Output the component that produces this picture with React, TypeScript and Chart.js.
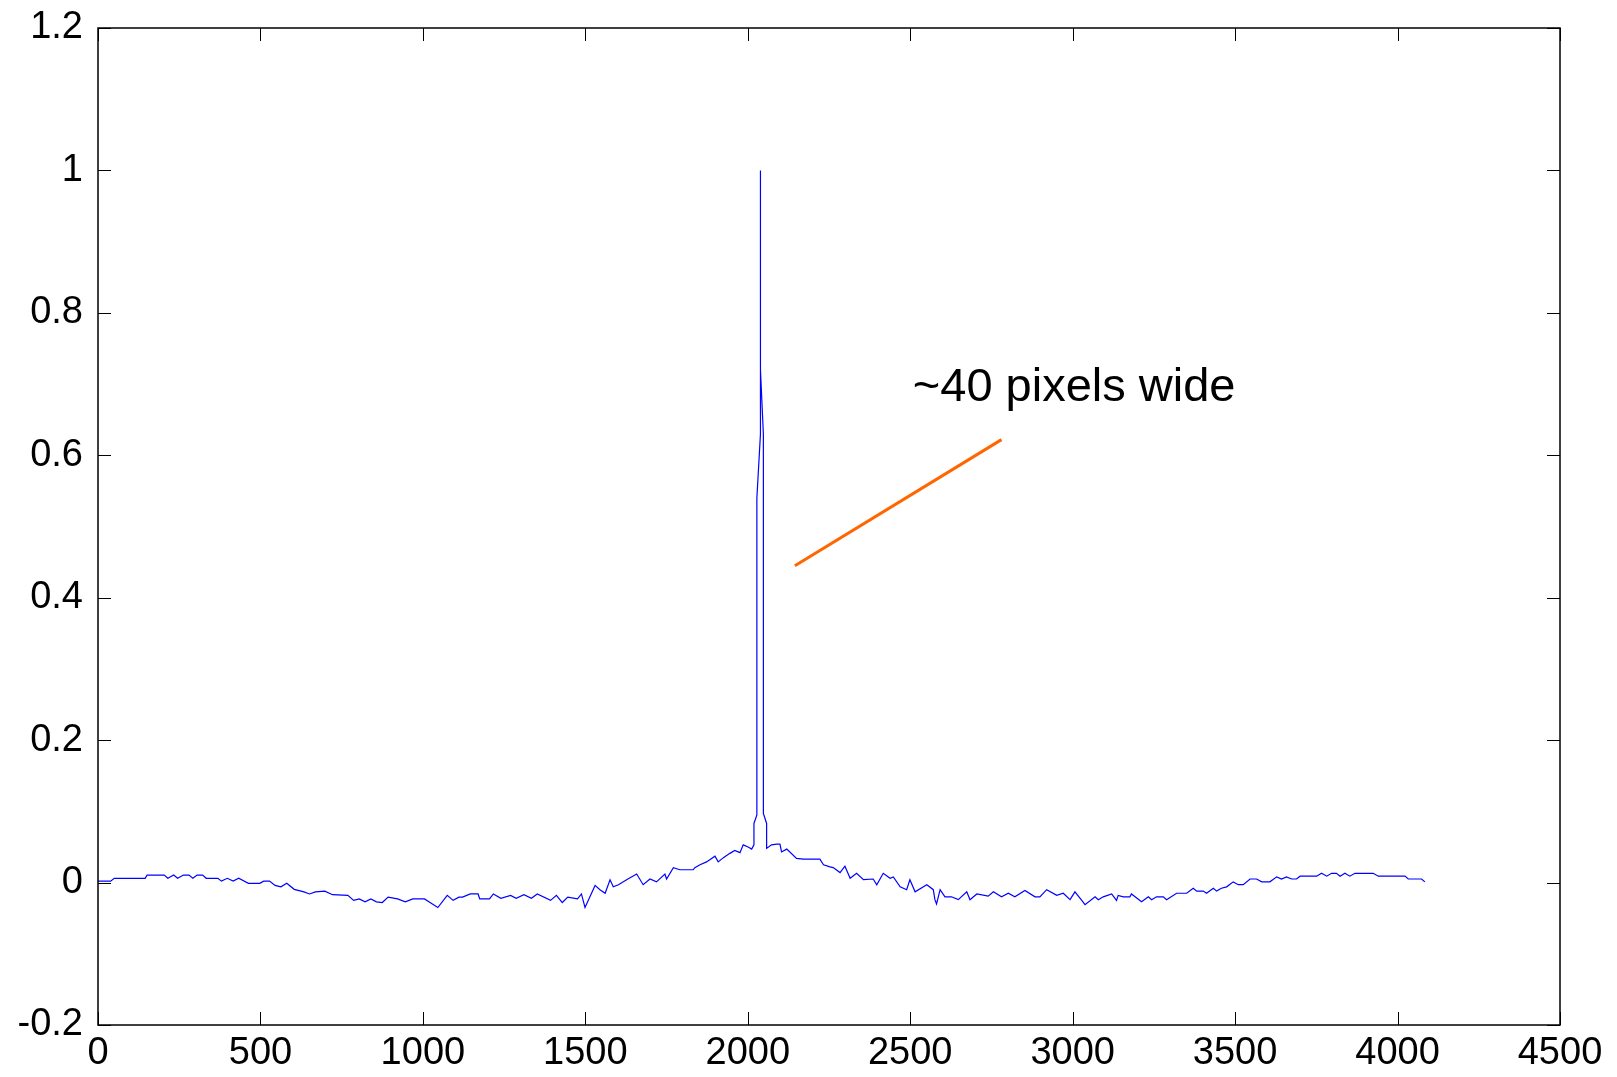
import React, { useEffect, useRef } from 'react';
import { Chart, registerables } from 'chart.js';

Chart.register(...registerables);

// Signal (x = sample index, y = normalised value)
const xs = [
  0, 39, 50, 145, 151, 204, 215, 233, 245, 263, 280, 292, 305, 322, 333, 369, 380, 398, 416, 433,
  463, 498, 510, 528, 545, 563, 581, 604, 634, 651, 669, 698, 722, 769, 787, 804, 822, 840, 857, 875,
  893, 922, 946, 969, 1005, 1022, 1046, 1075, 1093, 1111, 1122, 1146, 1170, 1175, 1205, 1217, 1240, 1270, 1287, 1311,
  1334, 1352, 1393, 1411, 1429, 1446, 1476, 1488, 1499, 1511, 1530, 1545, 1561, 1576, 1586, 1602, 1627, 1658, 1678, 1699,
  1719, 1745, 1750, 1771, 1791, 1832, 1837, 1853, 1873, 1899, 1909, 1925, 1945, 1960, 1976, 1986, 2001, 2012, 2019, 2019,
  2028, 2028, 2039, 2039, 2039, 2048, 2048, 2058, 2058, 2073, 2089, 2099, 2104, 2120, 2150, 2171, 2222, 2233, 2253, 2263,
  2284, 2299, 2315, 2335, 2356, 2386, 2397, 2417, 2438, 2448, 2469, 2489, 2499, 2515, 2551, 2571, 2576, 2581, 2592, 2607,
  2627, 2648, 2674, 2684, 2705, 2740, 2756, 2781, 2802, 2822, 2853, 2884, 2899, 2920, 2951, 2971, 2992, 3007, 3028, 3038,
  3069, 3079, 3094, 3120, 3135, 3140, 3156, 3176, 3181, 3212, 3233, 3243, 3258, 3279, 3289, 3320, 3351, 3371, 3382, 3402,
  3412, 3433, 3443, 3458, 3474, 3494, 3510, 3525, 3546, 3566, 3582, 3607, 3628, 3643, 3658, 3674, 3689, 3700, 3751, 3766,
  3782, 3797, 3812, 3823, 3838, 3853, 3869, 3925, 3941, 4023, 4033, 4074, 4084,
];
const ys = [
  0.002, 0.002, 0.006, 0.006, 0.0105, 0.0105, 0.006, 0.0105, 0.006, 0.0105, 0.0105, 0.006, 0.0105, 0.0105, 0.006, 0.006, 0.002, 0.006, 0.002, 0.006,
  -0.001, -0.001, 0.002, 0.002, -0.004, -0.006, -0.001, -0.0095, -0.013, -0.016, -0.013, -0.012, -0.017, -0.018, -0.025, -0.023, -0.027, -0.023, -0.027, -0.028,
  -0.0205, -0.023, -0.027, -0.023, -0.023, -0.028, -0.035, -0.018, -0.025, -0.0205, -0.0205, -0.016, -0.016, -0.023, -0.023, -0.016, -0.022, -0.018, -0.022, -0.017,
  -0.022, -0.016, -0.025, -0.018, -0.028, -0.0205, -0.023, -0.016, -0.035, -0.023, -0.004, -0.01, -0.015, 0.004, -0.006, -0.003, 0.004, 0.012, -0.003, 0.005,
  0.001, 0.012, 0.005, 0.021, 0.018, 0.018, 0.021, 0.025, 0.029, 0.037, 0.029, 0.035, 0.041, 0.045, 0.042, 0.053, 0.05, 0.047, 0.053, 0.083,
  0.095, 0.54, 0.63, 1.0, 0.72, 0.63, 0.097, 0.083, 0.048, 0.053, 0.054, 0.054, 0.043, 0.047, 0.034, 0.033, 0.033, 0.025, 0.022, 0.021,
  0.014, 0.023, 0.006, 0.013, 0.004, 0.005, -0.003, 0.013, 0.006, 0.008, -0.006, -0.01, 0.004, -0.013, -0.003, -0.01, -0.024, -0.03, -0.01, -0.02,
  -0.02, -0.024, -0.013, -0.024, -0.016, -0.019, -0.013, -0.02, -0.015, -0.02, -0.011, -0.02, -0.02, -0.01, -0.018, -0.015, -0.024, -0.013, -0.025, -0.031,
  -0.02, -0.024, -0.02, -0.016, -0.025, -0.018, -0.02, -0.02, -0.016, -0.027, -0.02, -0.024, -0.02, -0.02, -0.024, -0.015, -0.015, -0.008, -0.012, -0.012,
  -0.015, -0.008, -0.012, -0.008, -0.006, 0.001, -0.003, -0.003, 0.005, 0.005, 0.001, 0.001, 0.008, 0.005, 0.008, 0.005, 0.005, 0.009, 0.009, 0.013,
  0.009, 0.013, 0.013, 0.009, 0.013, 0.009, 0.013, 0.013, 0.009, 0.009, 0.005, 0.005, 0.001,
];

// Annotation pointer line and label
const pointerX = [2145, 2781];
const pointerY = [0.445, 0.622];
const annotationText = '~40 pixels wide';
const annotationX = 2508;
const annotationY = 0.676;

// Axis ticks
const xTickLabels = ['0', '500', '1000', '1500', '2000', '2500', '3000', '3500', '4000', '4500'];
const yTickLabels = ['-0.2', '0', '0.2', '0.4', '0.6', '0.8', '1', '1.2'];

const FONT = '"Liberation Sans", Arial, Helvetica, sans-serif';

const framePlugin = {
  id: 'frameTicks',
  afterDraw(chart: any) {
    const { ctx, chartArea: a, scales } = chart;
    const sx = scales.x;
    const sy = scales.y;
    const L = 13;
    ctx.save();
    ctx.strokeStyle = '#000';
    ctx.lineWidth = 1;
    ctx.beginPath();
    sx.ticks.forEach((t: any) => {
      const p = Math.round(sx.getPixelForValue(t.value)) + 0.5;
      ctx.moveTo(p, a.bottom);
      ctx.lineTo(p, a.bottom - L);
      ctx.moveTo(p, a.top);
      ctx.lineTo(p, a.top + L);
    });
    sy.ticks.forEach((t: any) => {
      const p = Math.round(sy.getPixelForValue(t.value)) + 0.5;
      ctx.moveTo(a.left, p);
      ctx.lineTo(a.left + L, p);
      ctx.moveTo(a.right, p);
      ctx.lineTo(a.right - L, p);
    });
    ctx.stroke();
    ctx.lineWidth = 1.5;
    ctx.strokeRect(a.left, a.top, a.right - a.left, a.bottom - a.top);

    ctx.fillStyle = '#000';
    ctx.font = `47px ${FONT}`;
    ctx.textAlign = 'left';
    ctx.textBaseline = 'alphabetic';
    ctx.fillText(annotationText, sx.getPixelForValue(annotationX), sy.getPixelForValue(annotationY));
    ctx.restore();
  },
};

export default function App() {
  const canvasRef = useRef<HTMLCanvasElement | null>(null);

  useEffect(() => {
    if (!canvasRef.current) return;
    const signal = xs.map((x, i) => ({ x, y: ys[i] }));
    const pointer = pointerX.map((x, i) => ({ x, y: pointerY[i] }));
    const tickFont = { family: FONT, size: 38 };
    const chart = new Chart(canvasRef.current, {
      type: 'scatter',
      data: {
        datasets: [
          {
            data: signal,
            showLine: true,
            borderColor: '#0000ff',
            borderWidth: 1.2,
            pointRadius: 0,
            tension: 0,
          },
          {
            data: pointer,
            showLine: true,
            borderColor: '#ff6600',
            borderWidth: 3,
            pointRadius: 0,
            tension: 0,
          },
        ],
      },
      options: {
        animation: false,
        responsive: true,
        maintainAspectRatio: false,
        layout: { padding: { top: 28, right: 57, left: 0, bottom: 0 } },
        plugins: { legend: { display: false }, tooltip: { enabled: false } },
        scales: {
          x: {
            type: 'linear',
            min: 0,
            max: 4500,
            grid: { display: false, drawTicks: false },
            border: { display: false },
            ticks: {
              stepSize: 500,
              autoSkip: false,
              maxRotation: 0,
              color: '#000',
              padding: 6,
              font: tickFont,
              callback: (_v: any, i: number) => xTickLabels[i],
            },
            afterFit: (s: any) => {
              s.height = 52;
              s.paddingLeft = 0;
              s.paddingRight = 0;
            },
          },
          y: {
            type: 'linear',
            min: -0.2,
            max: 1.2,
            grid: { display: false, drawTicks: false },
            border: { display: false },
            ticks: {
              stepSize: 0.2,
              autoSkip: false,
              color: '#000',
              padding: 15,
              font: tickFont,
              callback: (_v: any, i: number) => yTickLabels[i],
            },
            afterFit: (s: any) => {
              s.width = 98;
              s.paddingTop = 0;
              s.paddingBottom = 0;
            },
          },
        },
      },
      plugins: [framePlugin],
    } as any);
    return () => chart.destroy();
  }, []);

  return (
    <div style={{ position: 'fixed', left: 0, top: 0, width: '1617px', height: '1077px', background: '#fff' }}>
      <canvas ref={canvasRef} style={{ display: 'block' }} />
    </div>
  );
}
